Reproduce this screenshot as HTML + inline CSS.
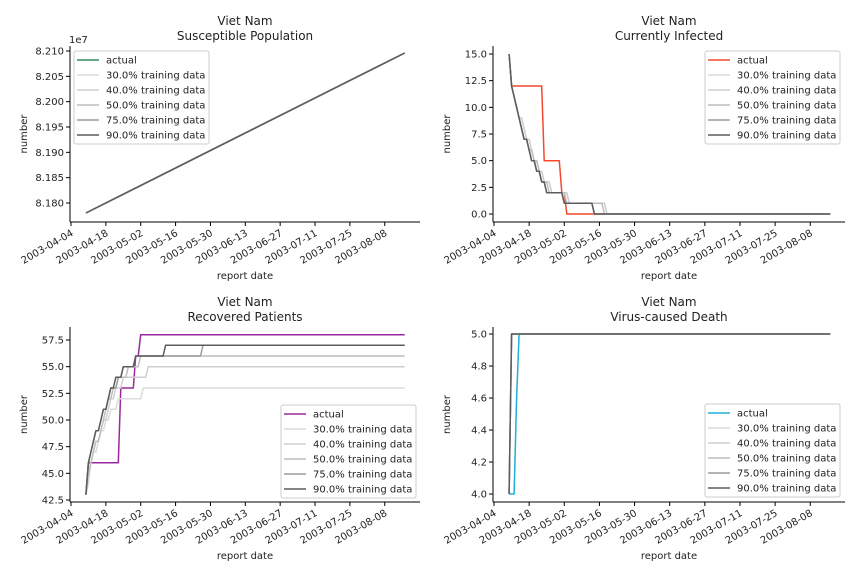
<!DOCTYPE html>
<html><head><meta charset="utf-8"><style>
body{margin:0;background:#fff}
svg{display:block;font-family:"DejaVu Sans","Liberation Sans",sans-serif}
</style></head><body>
<svg id="c" width="864" height="576" viewBox="0 0 864 576"></svg>
<script>
const tickDays=[0,14,28,42,56,70,84,98,112,126];
const tickDates=["2003-04-04","2003-04-18","2003-05-02","2003-05-16","2003-05-30","2003-06-13","2003-06-27","2003-07-11","2003-07-25","2003-08-08"];
const seriesNames=["actual","30.0% training data","40.0% training data","50.0% training data","75.0% training data","90.0% training data"];
const grayColors=["#dcdcdc","#cfcfcf","#bebebe","#9c9c9c","#5c5c5c"];
const startDay=6, endDay=134;
// Susceptible: [start,end]
const suscActual=[81780200,82096000];
const suscPred=[81780200,82096000];
// Infected daily values from startDay; last value holds to endDay
const infActual=[15,12,12,12,12,12,12,12,12,12,12,12,12,12,5,5,5,5,5,5,5,2,2,0];
const inf30=[15,12,11,10,9,9,8,7,7,6,5,5,4,4,3,3,3,2,2,2,2,2,2,2,1,1,1,1,1,1,1,1,1,1,1,1,1,1,1,0];
const inf40=[15,12,11,10,9,9,8,7,7,6,5,5,4,4,3,3,3,2,2,2,2,2,2,2,1,1,1,1,1,1,1,1,1,1,1,1,1,1,1,0];
const inf50=[15,12,11,10,9,8,7,7,6,6,5,5,4,3,3,3,2,2,2,2,2,2,2,1,1,1,1,1,1,1,1,1,1,1,1,1,1,1,0];
const inf75=[15,12,11,10,9,8,7,7,6,5,5,4,4,3,3,2,2,2,2,2,2,2,1,1,1,1,1,1,1,1,1,1,1,1,0];
const inf90=[15,12,11,10,9,8,7,7,6,5,5,4,4,3,3,2,2,2,2,2,2,2,1,1,1,1,1,1,1,1,1,1,1,1,0];
// Recovered
const recActual=[43,46,46,46,46,46,46,46,46,46,46,46,46,46,53,53,53,53,53,53,56,56,58];
const rec30=[43,44,46,47,47,48,49,49,50,50,51,51,51,52,52,52,52,52,52,52,52,52,52,53];
const rec40=[43,45,46,47,48,48,49,50,50,51,52,52,53,53,53,54,54,54,54,54,54,54,54,54,54,55];
const rec50=[43,45,46,47,48,48,49,50,51,52,52,53,53,54,54,54,54,55,55,55,55,55,56];
const rec75=[43,46,47,48,49,49,50,51,51,52,53,53,53,54,54,55,55,55,55,55,56,56,56,56,56,56,56,56,56,56,56,56,56,56,56,56,56,56,56,56,56,56,56,56,56,56,56,57];
const rec90=[43,46,47,48,49,49,50,51,51,52,53,53,54,54,54,55,55,55,55,55,56,56,56,56,56,56,56,56,56,56,56,56,57];
// Death
const deathActual=[4,4,4,4.6,5];
const deathPred=[4,5];

const S=document.getElementById('c');
const NS="http://www.w3.org/2000/svg";
function mk(tag,attrs,parent,text){const e=document.createElementNS(NS,tag);for(const k in attrs)e.setAttribute(k,attrs[k]);if(text!==undefined)e.textContent=text;(parent||S).appendChild(e);return e;}

const panels=[
 {key:"susceptible",title:"Susceptible Population",x0:70,x1:420,y0:46,y1:222,px0:71,ppd:2.49,vy0:8.180e7,py0:203,vy1:8.210e7,py1:51,ticks:[8.180,8.185,8.190,8.195,8.200,8.205,8.210],tickScale:1e7,fmt:v=>v.toFixed(3),color:"#2e8b57",actual:suscActual,preds:[suscPred,suscPred,suscPred,suscPred,suscPred],linear:true,legend:[74,51],offset:"1e7",xlabelY:275},
 {key:"infected",title:"Currently Infected",x0:493,x1:845,y0:46,y1:222,px0:494,ppd:2.51,vy0:0,py0:214,vy1:15,py1:54,ticks:[0,2.5,5,7.5,10,12.5,15],tickScale:1,fmt:v=>v.toFixed(1),color:"#f4492e",actual:infActual,preds:[inf30,inf40,inf50,inf75,inf90],legend:[705,51],xlabelY:275},
 {key:"recovered",title:"Recovered Patients",x0:70,x1:420,y0:327,y1:502,px0:71,ppd:2.49,vy0:42.5,py0:500,vy1:57.5,py1:340,ticks:[42.5,45,47.5,50,52.5,55,57.5],tickScale:1,fmt:v=>v.toFixed(1),color:"#992a9c",actual:recActual,preds:[rec30,rec40,rec50,rec75,rec90],legend:[281,405],xlabelY:555},
 {key:"death",title:"Virus-caused Death",x0:493,x1:845,y0:327,y1:502,px0:494,ppd:2.51,vy0:4,py0:494,vy1:5,py1:334,ticks:[4,4.2,4.4,4.6,4.8,5],tickScale:1,fmt:v=>v.toFixed(1),color:"#1fb0d6",actual:deathActual,preds:[deathPred,deathPred,deathPred,deathPred,deathPred],legend:[705,404],xlabelY:555}
];

panels.forEach(p=>{
 const g=mk('g',{});
 
 
 const xs=d=>p.px0+p.ppd*d;
 const ys=v=>p.py0+(v-p.vy0)*(p.py1-p.py0)/(p.vy1-p.vy0);
 const cx=(p.x0+p.x1)/2;
 const t1=mk('text',{x:cx,y:p.y0-21,'text-anchor':'middle','font-size':12,fill:'#222'},g,'Viet Nam');
 
 const t2=mk('text',{x:cx,y:p.y0-6,'text-anchor':'middle','font-size':12,fill:'#222'},g,p.title);
 
 // series
 function pts(arr){
   let s=[];
   if(p.linear){s.push([xs(startDay),ys(arr[0])]);s.push([xs(endDay),ys(arr[arr.length-1])]);return s;}
   arr.forEach((v,i)=>s.push([xs(startDay+i),ys(v)]));
   s.push([xs(endDay),ys(arr[arr.length-1])]);
   return s;
 }
 const all=[p.actual].concat(p.preds);
 const colors=[p.color].concat(grayColors);
 all.forEach((arr,i)=>{
   const l=mk('polyline',{points:pts(arr).map(q=>q[0].toFixed(1)+','+q[1].toFixed(1)).join(' '),fill:'none',stroke:colors[i],'stroke-width':1.5,'stroke-linejoin':'round'},g);
   
   
 });
 // axes
 const ax=mk('line',{x1:p.x0,y1:p.y1,x2:p.x1,y2:p.y1,stroke:'#000','stroke-width':1},g);
 
 const ay=mk('line',{x1:p.x0,y1:p.y0,x2:p.x0,y2:p.y1,stroke:'#000','stroke-width':1},g);
 
 tickDays.forEach((d,i)=>{
   const x=xs(d);
   mk('line',{x1:x,y1:p.y1,x2:x,y2:p.y1+4,stroke:'#000'},g);
   const t=mk('text',{x:0,y:0,'text-anchor':'end','font-size':10,fill:'#222',transform:`translate(${x+3},${p.y1+13}) rotate(-30)`},g,tickDates[i]);
   
 });
 p.ticks.forEach(v=>{
   const y=ys(v*p.tickScale);
   mk('line',{x1:p.x0-4,y1:y,x2:p.x0,y2:y,stroke:'#000'},g);
   const t=mk('text',{x:p.x0-6,y:y+3.5,'text-anchor':'end','font-size':10,fill:'#222'},g,p.fmt(v));
   
 });
 if(p.offset){const o=mk('text',{x:p.x0-1,y:p.y0-3,'font-size':10,fill:'#222'},g,p.offset);}
 const xl=mk('text',{x:cx,y:p.xlabelY+4,'text-anchor':'middle','font-size':10,fill:'#222'},g,'report date');
 
 const yl=mk('text',{x:0,y:0,'text-anchor':'middle','font-size':10,fill:'#222',transform:`translate(${p.x0-43},${(p.y0+p.y1)/2}) rotate(-90)`},g,'number');
 
 // legend
 const [lx,ly]=p.legend;
 const lg=mk('g',{},g);
 
 mk('rect',{x:lx,y:ly,width:135,height:93,rx:2,fill:'#fff','fill-opacity':0.85,stroke:'#ccc'},lg);
 seriesNames.forEach((n,i)=>{
   const y=ly+9+i*15;
   mk('line',{x1:lx+3,y1:y,x2:lx+25,y2:y,stroke:colors[i],'stroke-width':1.5},lg);
   const t=mk('text',{x:lx+32,y:y+3.5,'font-size':10,fill:'#222'},lg,n);
   
 });
});
</script>
</body></html>
